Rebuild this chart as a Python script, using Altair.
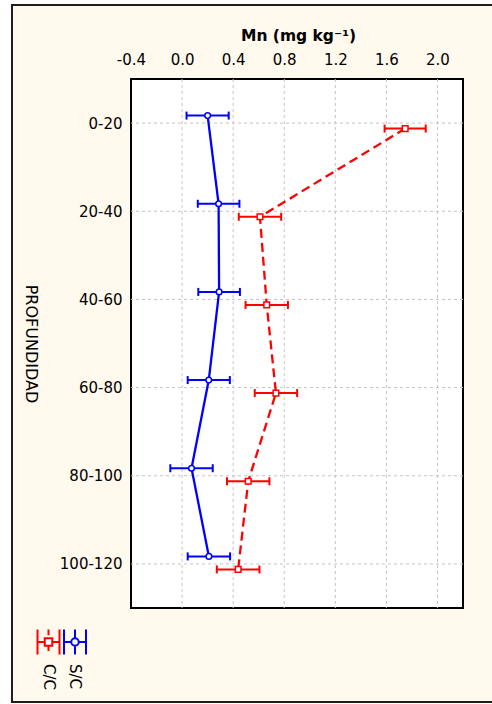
import altair as alt
import pandas as pd

# ---- data ----
depths = ["0-20", "20-40", "40-60", "60-80", "80-100", "100-120"]
sc_mean = [0.20, 0.286, 0.29, 0.209, 0.074, 0.21]
sc_err = [0.165, 0.163, 0.163, 0.165, 0.166, 0.166]
cc_mean = [1.747, 0.61, 0.663, 0.735, 0.518, 0.439]
cc_err = [0.161, 0.166, 0.166, 0.166, 0.166, 0.167]
series_names = ["C/C", "S/C"]
series_colors = ["#FF0000", "#0000FF"]
x_ticks = [-0.4, 0.0, 0.4, 0.8, 1.2, 1.6, 2.0]
x_domain = [-0.4, 2.2]

FONT = "DejaVu Sans"
CREAM = "#FFF9EE"
W, H = 332, 529


def frame(name, means, errs):
    return pd.DataFrame({
        "series": name,
        "depth": depths,
        "idx": list(range(len(depths))),
        "mean": means,
        "lo": [m - e for m, e in zip(means, errs)],
        "hi": [m + e for m, e in zip(means, errs)],
    })


df_sc = frame("S/C", sc_mean, sc_err)
df_cc = frame("C/C", cc_mean, cc_err)
df_leg = pd.DataFrame({"series": series_names})

XS = alt.Scale(domain=x_domain, nice=False, zero=False)
YS = alt.Scale(type="point", domain=depths, padding=0.5)
XA = alt.Axis(orient="top", values=x_ticks,
              labelExpr="replace(format(datum.value, '.1f'), '\u2212', '-')",
              grid=False, ticks=False, domain=False, labelFlush=False,
              labelFont=FONT, labelFontSize=15, labelColor="black", labelPadding=12,
              title="Mn (mg kg\u207b\u00b9)", titleFont=FONT, titleFontSize=15.5,
              titleFontWeight="bold", titleColor="black", titleX=167, titleY=-44,
              titleAlign="center", titleBaseline="middle", zindex=1)
YA = alt.Axis(orient="left", grid=False, ticks=False, domain=False,
              labelFont=FONT, labelFontSize=15, labelColor="black", labelPadding=9,
              title="PROFUNDIDAD", titleFont=FONT, titleFontSize=16,
              titleFontWeight="normal", titleColor="black", titleAngle=90,
              titleX=-101, titleY=264.5, titleAlign="center", titleBaseline="middle",
              zindex=1)


def X(field):
    return alt.X(field, type="quantitative", scale=XS, axis=XA, title="Mn (mg kg\u207b\u00b9)")


def Y():
    return alt.Y("depth:N", scale=YS, axis=YA, title="PROFUNDIDAD")


# decorative outer frame and plot background
outer = alt.Chart(pd.DataFrame({"a": [0]})).mark_rect(
    fill=CREAM, stroke="#1e1e1e", strokeWidth=2
).encode(x=alt.value(-119), x2=alt.value(380), y=alt.value(-74), y2=alt.value(623))

plot_bg = alt.Chart(pd.DataFrame({"a": [0]})).mark_rect(
    fill="white", stroke="black", strokeWidth=2
).encode(x=alt.X(datum=x_domain[0], scale=XS, axis=XA), x2=alt.X2(datum=x_domain[1]))

grid_v = alt.Chart(pd.DataFrame({"v": x_ticks[1:]})).mark_rule(
    color="#c4c4c4", strokeWidth=1, strokeDash=[3, 3]
).encode(x=X("v"))

grid_h = alt.Chart(pd.DataFrame({"depth": depths})).mark_rule(
    color="#c4c4c4", strokeWidth=1, strokeDash=[3, 3]
).encode(y=Y())


def series_layers(d, color, dash, shape, yoff):
    base = alt.Chart(d)
    line_kw = dict(color=color, strokeWidth=2.3, yOffset=yoff)
    if dash:
        line_kw["strokeDash"] = dash
    line = base.mark_line(**line_kw).encode(x=X("mean"), y=Y(), order="idx:Q")
    bar = base.mark_rule(color=color, strokeWidth=2, yOffset=yoff).encode(
        x=X("lo"), x2="hi", y=Y())
    cap_lo = base.mark_tick(color=color, thickness=2, size=8, yOffset=yoff,
                            opacity=1).encode(x=X("lo"), y=Y())
    cap_hi = base.mark_tick(color=color, thickness=2, size=8, yOffset=yoff,
                            opacity=1).encode(x=X("hi"), y=Y())
    pts = base.mark_point(shape=shape, filled=True, fill="white", stroke=color,
                          strokeWidth=1.5, size=32, opacity=1, yOffset=yoff).encode(
        x=X("mean"), y=Y())
    return [line, bar, cap_lo, cap_hi, pts]


cc_layers = series_layers(df_cc, series_colors[0], [9, 5], "square", 5.5)
sc_layers = series_layers(df_sc, series_colors[1], None, "circle", -7.5)

main = alt.layer(outer, plot_bg, grid_v, grid_h, *cc_layers, *sc_layers)

# ---- legend (glyph + vertical label), placed below-left of the plot ----
glyph_cc = ("M-0.88,-1V1M0.88,-1V1M-0.88,0H-0.3M0.3,0H0.88"
            "M0,-1V-0.55M0,0.3V0.72M-0.3,-0.3H0.3V0.3H-0.3Z")
glyph_sc = ("M-0.88,-1V1M0.88,-1V1M-0.88,0H-0.3M0.3,0H0.88"
            "M0,-1V-0.3M0,0.3V1M-0.3,0A0.3,0.3 0 1,0 0.3,0A0.3,0.3 0 1,0 -0.3,0Z")

LX = alt.X("series:N", scale=alt.Scale(type="point", domain=series_names,
                                        range=[-82.5, -56], padding=0), axis=None)
leg_glyph = alt.Chart(df_leg).mark_point(
    filled=True, fill="white", strokeWidth=2, size=625, opacity=1
).encode(
    x=LX, y=alt.value(563),
    stroke=alt.Stroke("series:N", scale=alt.Scale(domain=series_names, range=series_colors),
                      legend=None),
    shape=alt.Shape("series:N", scale=alt.Scale(domain=series_names,
                                                range=[glyph_cc, glyph_sc]), legend=None),
)
leg_text = alt.Chart(df_leg).mark_text(
    angle=90, align="left", baseline="middle", dx=22, font=FONT, fontSize=15,
    color="black"
).encode(x=LX, y=alt.value(563), text="series:N")

legend = alt.layer(leg_glyph, leg_text)

chart = alt.layer(main, legend).resolve_scale(x="independent").properties(
    width=W, height=H,
    autosize=alt.AutoSizeParams(type="none"),
    padding={"left": 131, "top": 79, "right": 29, "bottom": 96},
    background="white",
).configure_view(stroke=None)

chart.save("out.html", embed_options={"renderer": "svg", "actions": False})
